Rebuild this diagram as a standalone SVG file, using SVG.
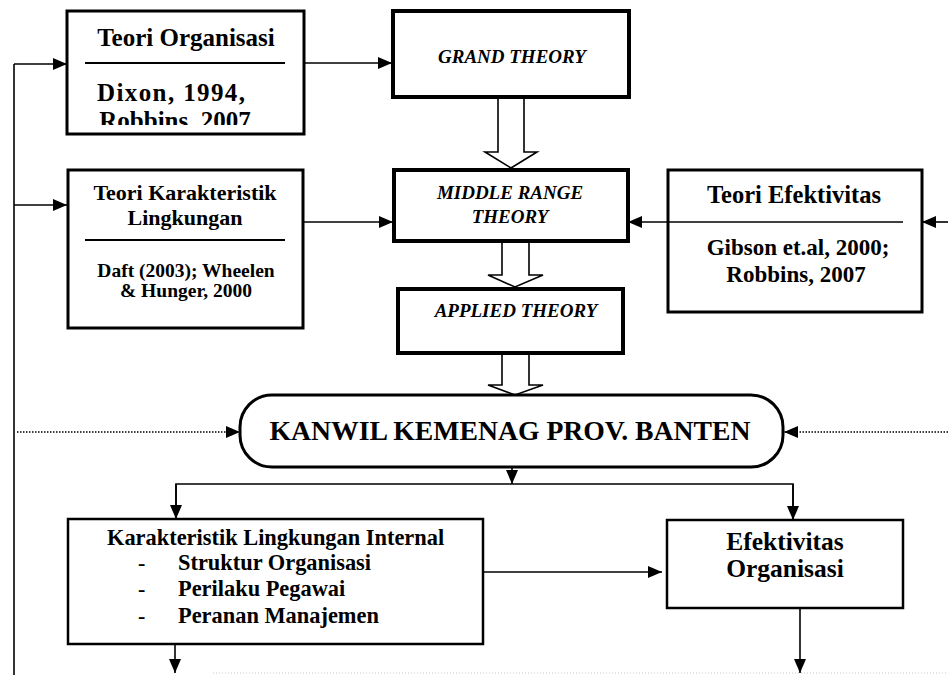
<svg xmlns="http://www.w3.org/2000/svg" width="948" height="675" viewBox="0 0 948 675">
<style>
text{font-family:"Liberation Serif","Times New Roman",serif;font-weight:bold;fill:#000}
.it{font-style:italic}
.box{fill:#fff;stroke:#000;stroke-width:3}
.tbox{fill:#fff;stroke:#000;stroke-width:4}
.ln{fill:none;stroke:#000;stroke-width:1.6}
.dot{fill:none;stroke:#000;stroke-width:1.6;stroke-dasharray:1.5 1.5}
.hol{fill:#fff;stroke:#000;stroke-width:1.6}
.div{stroke:#000;stroke-width:2}
</style>
<defs>
<marker id="ah" markerWidth="14" markerHeight="12" refX="14" refY="6" orient="auto" markerUnits="userSpaceOnUse"><path d="M0,0 L14,6 L0,12 z" fill="#000"/></marker>
<clipPath id="clipOrg"><rect x="67" y="10" width="237" height="115"/></clipPath>
</defs>

<g id="connectors">
<line class="ln" x1="14" y1="64" x2="14" y2="675"/>
<line class="ln" x1="14" y1="64" x2="67" y2="64" marker-end="url(#ah)"/>
<line class="ln" x1="14" y1="205" x2="67" y2="205" marker-end="url(#ah)"/>
<line class="ln" x1="304" y1="63" x2="392" y2="63" marker-end="url(#ah)"/>
<line class="ln" x1="303" y1="222" x2="393" y2="222" marker-end="url(#ah)"/>
<line class="ln" x1="668" y1="222" x2="628" y2="222" marker-end="url(#ah)"/>
<line class="ln" x1="948" y1="222" x2="922" y2="222" marker-end="url(#ah)"/>
<path class="hol" d="M498,98 L498,152 L485,152 L511,168 L537,152 L524,152 L524,98"/>
<path class="hol" d="M502,241 L502,275 L488,275 L515,287 L543,275 L529,275 L529,241"/>
<path class="hol" d="M502,353 L502,385 L488,385 L515,395 L543,385 L529,385 L529,353"/>
<line class="dot" x1="17" y1="432" x2="240" y2="432" marker-end="url(#ah)"/>
<line class="dot" x1="948" y1="432" x2="784" y2="432" marker-end="url(#ah)"/>
<line class="ln" x1="512" y1="467" x2="512" y2="484" marker-end="url(#ah)"/>
<polyline class="ln" points="176,519 176,484 793,484 793,520"/>
<line class="ln" x1="176" y1="484" x2="176" y2="519" marker-end="url(#ah)"/>
<line class="ln" x1="793" y1="484" x2="793" y2="520" marker-end="url(#ah)"/>
<line class="ln" x1="483" y1="572" x2="662" y2="572" marker-end="url(#ah)"/>
<line class="ln" x1="175" y1="644" x2="175" y2="673" marker-end="url(#ah)"/>
<line class="ln" x1="800" y1="608" x2="800" y2="673" marker-end="url(#ah)"/>
<line x1="213" y1="673" x2="948" y2="673" stroke="#c8c8c8" stroke-width="1" stroke-dasharray="1 2"/>
</g>

<g id="teori-organisasi">
<rect class="box" x="67" y="11" width="237" height="123"/>
<text x="186" y="46" font-size="25" text-anchor="middle">Teori Organisasi</text>
<line class="div" x1="85" y1="63" x2="285" y2="63"/>
<text x="171" y="101" font-size="25" text-anchor="middle" textLength="148" lengthAdjust="spacing">Dixon, 1994,</text>
<text x="175" y="129" font-size="25" text-anchor="middle" clip-path="url(#clipOrg)">Robbins. 2007</text>
</g>

<g id="grand-theory">
<rect class="tbox" x="393" y="11" width="236" height="86"/>
<text class="it" x="512" y="63" font-size="19" text-anchor="middle">GRAND THEORY</text>
</g>

<g id="teori-karakteristik">
<rect class="box" x="68" y="170" width="235" height="158"/>
<text x="185" y="200" font-size="22" text-anchor="middle">Teori Karakteristik</text>
<text x="185" y="225" font-size="22" text-anchor="middle">Lingkungan</text>
<line class="div" x1="85" y1="240" x2="285" y2="240"/>
<text x="186" y="277" font-size="19.5" text-anchor="middle">Daft (2003); Wheelen</text>
<text x="186" y="297" font-size="19.5" text-anchor="middle">&amp; Hunger, 2000</text>
</g>

<g id="middle-range-theory">
<rect class="tbox" x="394" y="170" width="234" height="71"/>
<text class="it" x="510" y="199" font-size="19" text-anchor="middle">MIDDLE RANGE</text>
<text class="it" x="510" y="223" font-size="19" text-anchor="middle">THEORY</text>
</g>

<g id="teori-efektivitas">
<rect class="box" x="668" y="170" width="254" height="142"/>
<text x="794" y="203" font-size="24.5" text-anchor="middle">Teori Efektivitas</text>
<line class="ln" x1="903" y1="222" x2="668" y2="222"/>
<text x="798" y="255" font-size="23" text-anchor="middle">Gibson et.al, 2000;</text>
<text x="796" y="282" font-size="23" text-anchor="middle">Robbins, 2007</text>
</g>

<g id="applied-theory">
<rect class="tbox" x="398" y="289" width="225" height="64"/>
<text class="it" x="516" y="317" font-size="19" text-anchor="middle">APPLIED THEORY</text>
</g>

<g id="kanwil">
<rect x="240" y="395" width="543" height="72" rx="32" ry="32" fill="#fff" stroke="#000" stroke-width="3"/>
<text x="510" y="440" font-size="27.7" text-anchor="middle">KANWIL KEMENAG PROV. BANTEN</text>
</g>

<g id="karakteristik-internal">
<rect x="68" y="519" width="415" height="125" fill="#fff" stroke="#000" stroke-width="2.5"/>
<text x="107" y="545" font-size="22.4">Karakteristik Lingkungan Internal</text>
<text x="138" y="570" font-size="22">-</text>
<text x="178" y="570" font-size="22.4">Struktur Organisasi</text>
<text x="138" y="596" font-size="22">-</text>
<text x="178" y="596" font-size="22.4">Perilaku Pegawai</text>
<text x="138" y="623" font-size="22">-</text>
<text x="178" y="623" font-size="22.4">Peranan Manajemen</text>
</g>

<g id="efektivitas-organisasi">
<rect x="667" y="520" width="236" height="88" fill="#fff" stroke="#000" stroke-width="2.5"/>
<text x="785" y="550" font-size="25.5" text-anchor="middle">Efektivitas</text>
<text x="785" y="577" font-size="25.5" text-anchor="middle">Organisasi</text>
</g>
</svg>
